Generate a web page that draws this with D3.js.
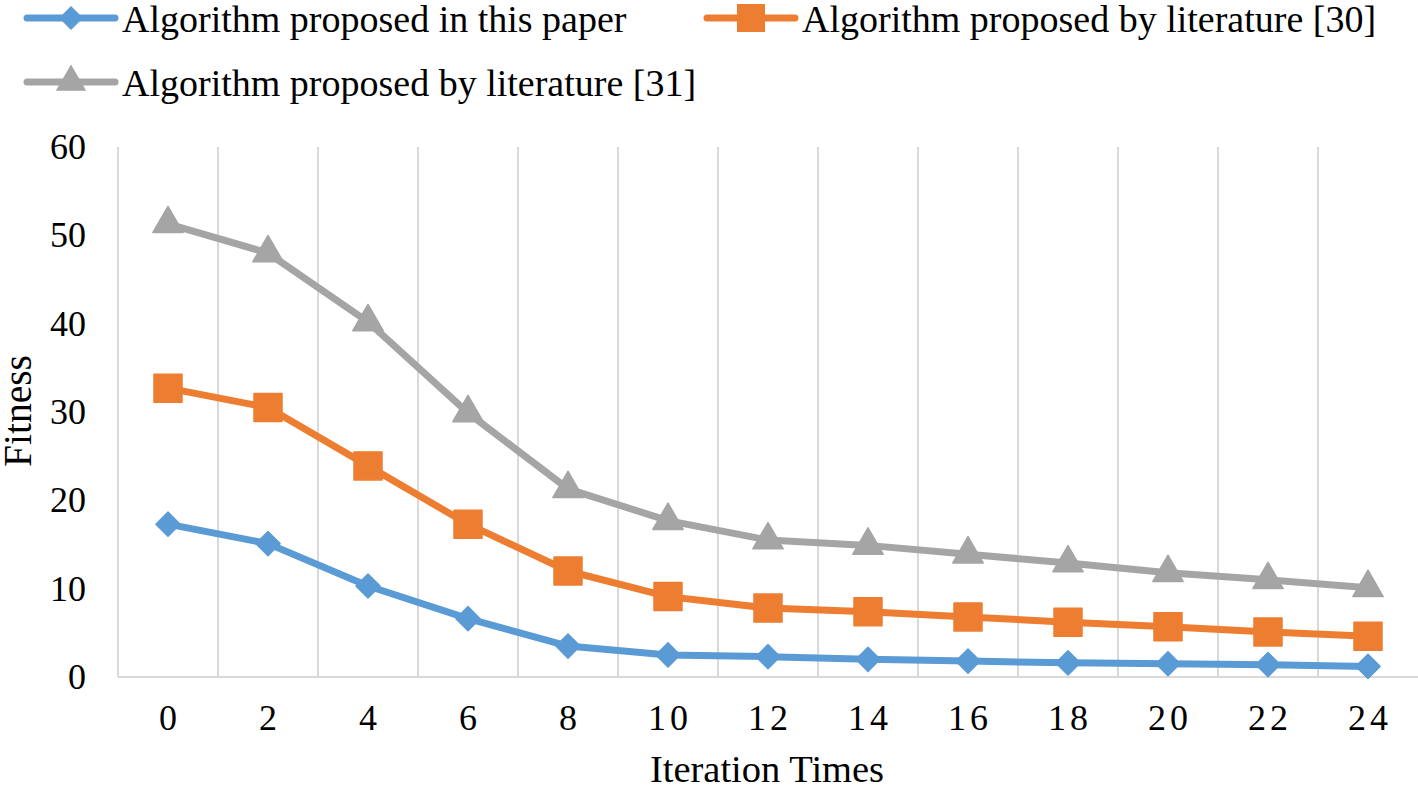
<!DOCTYPE html>
<html>
<head>
<meta charset="utf-8">
<script src="https://cdn.jsdelivr.net/npm/d3@7"></script>
</head>
<body style="margin:0;background:#fff">
<svg id="chart" width="1418" height="786" font-family="Liberation Serif" style="font-family:'Liberation Serif'"></svg>
<script>
// chart data
var iterations = ["0", "2", "4", "6", "8", "10", "12", "14", "16", "18", "20", "22", "24"];
var seriesNames = [
    "Algorithm proposed in this paper",
    "Algorithm proposed by literature [30]",
    "Algorithm proposed by literature [31]"
];
var thisPaper = [17.3, 15.1, 10.3, 6.6, 3.5, 2.5, 2.3, 2.0, 1.8, 1.6, 1.5, 1.4, 1.2];
var lit30 = [32.7, 30.5, 23.9, 17.3, 12.0, 9.1, 7.8, 7.4, 6.8, 6.2, 5.7, 5.1, 4.6];
var lit31 = [51.3, 48.0, 40.2, 29.9, 21.3, 17.7, 15.5, 14.9, 13.9, 12.9, 11.8, 11.0, 10.1];
var yTicks = [0, 10, 20, 30, 40, 50, 60];

var colors = ["#5B9BD5", "#ED7D31", "#A5A5A5"];
var symbols = [d3.symbolDiamond2, d3.symbolSquare, d3.symbolTriangle];
var symSizes = [370, 784, 400];
var fontName = "Liberation Serif";

var svg = d3.select("#chart");
var plotLeft = 118, plotRight = 1418, plotTop = 147, plotBottom = 677;

var x = d3.scaleBand().domain(iterations).range([plotLeft, plotRight]);
var y = d3.scaleLinear().domain([0, 60]).range([plotBottom, plotTop]);

// vertical gridlines at band edges
var edges = iterations.map(function(d) { return x(d); });
svg.append("g").selectAll("line")
    .data(edges)
    .enter()
    .append("line")
    .attr("x1", function(d) { return d; })
    .attr("x2", function(d) { return d; })
    .attr("y1", plotTop)
    .attr("y2", plotBottom)
    .attr("stroke", "#D9D9D9")
    .attr("stroke-width", 2);

// baseline
svg.append("line")
    .attr("x1", plotLeft).attr("x2", plotRight)
    .attr("y1", y(0)).attr("y2", y(0))
    .attr("stroke", "#D9D9D9")
    .attr("stroke-width", 2);

// y tick labels
svg.append("g").selectAll("text")
    .data(yTicks)
    .enter()
    .append("text")
    .attr("x", 86)
    .attr("y", function(d) { return y(d) + 12; })
    .attr("text-anchor", "end")
    .attr("font-family", fontName)
    .attr("font-size", 36)
    .text(function(d) { return d; });

// x tick labels (spaced digits like the original)
svg.append("g").selectAll("text")
    .data(iterations)
    .enter()
    .append("text")
    .attr("x", function(d) { return x(d) + x.bandwidth() / 2 + (d.length > 1 ? 2 : 0); })
    .attr("y", 730)
    .attr("text-anchor", "middle")
    .attr("font-family", fontName)
    .attr("font-size", 36)
    .attr("letter-spacing", function(d) { return d.length > 1 ? 4 : 0; })
    .text(function(d) { return d; });

// axis titles
svg.append("text")
    .attr("x", 767)
    .attr("y", 782)
    .attr("text-anchor", "middle")
    .attr("font-family", fontName)
    .attr("font-size", 38.5)
    .text("Iteration Times");

svg.append("text")
    .attr("transform", "translate(31,411) rotate(-90)")
    .attr("text-anchor", "middle")
    .attr("font-family", fontName)
    .attr("font-size", 39.5)
    .text("Fitness");

// series
var allSeries = [thisPaper, lit30, lit31];
var line = d3.line()
    .x(function(d, i) { return x(iterations[i]) + x.bandwidth() / 2; })
    .y(function(d) { return y(d); });

[2, 1, 0].forEach(function(s) {
    var g = svg.append("g");
    g.append("path")
        .datum(allSeries[s])
        .attr("d", line)
        .attr("fill", "none")
        .attr("stroke", colors[s])
        .attr("stroke-width", 7)
        .attr("stroke-linejoin", "round");
    g.selectAll("path.marker")
        .data(allSeries[s])
        .enter()
        .append("path")
        .attr("class", "marker")
        .attr("transform", function(d, i) {
            return "translate(" + (x(iterations[i]) + x.bandwidth() / 2) + "," + y(d) + ")";
        })
        .attr("d", d3.symbol().type(symbols[s]).size(symSizes[s]))
        .attr("fill", colors[s])
        .attr("stroke", colors[s])
        .attr("stroke-width", 1.5)
        .attr("stroke-linejoin", "round");
});

// legend
var legendItems = [
    { lx: 27, ly: 18 },
    { lx: 707, ly: 18 },
    { lx: 27, ly: 82 }
];
legendItems.forEach(function(p, s) {
    var g = svg.append("g").attr("transform", "translate(" + p.lx + "," + p.ly + ")");
    g.append("line")
        .attr("x1", 0).attr("x2", 88)
        .attr("y1", 0).attr("y2", 0)
        .attr("stroke", colors[s])
        .attr("stroke-width", 7)
        .attr("stroke-linecap", "round");
    g.append("path")
        .attr("transform", "translate(44,0)")
        .attr("d", d3.symbol().type(symbols[s]).size(symSizes[s]))
        .attr("fill", colors[s]);
    g.append("text")
        .attr("x", 95)
        .attr("y", 14)
        .attr("font-family", fontName)
        .attr("font-size", 38)
        .text(seriesNames[s]);
});
</script>
</body>
</html>
